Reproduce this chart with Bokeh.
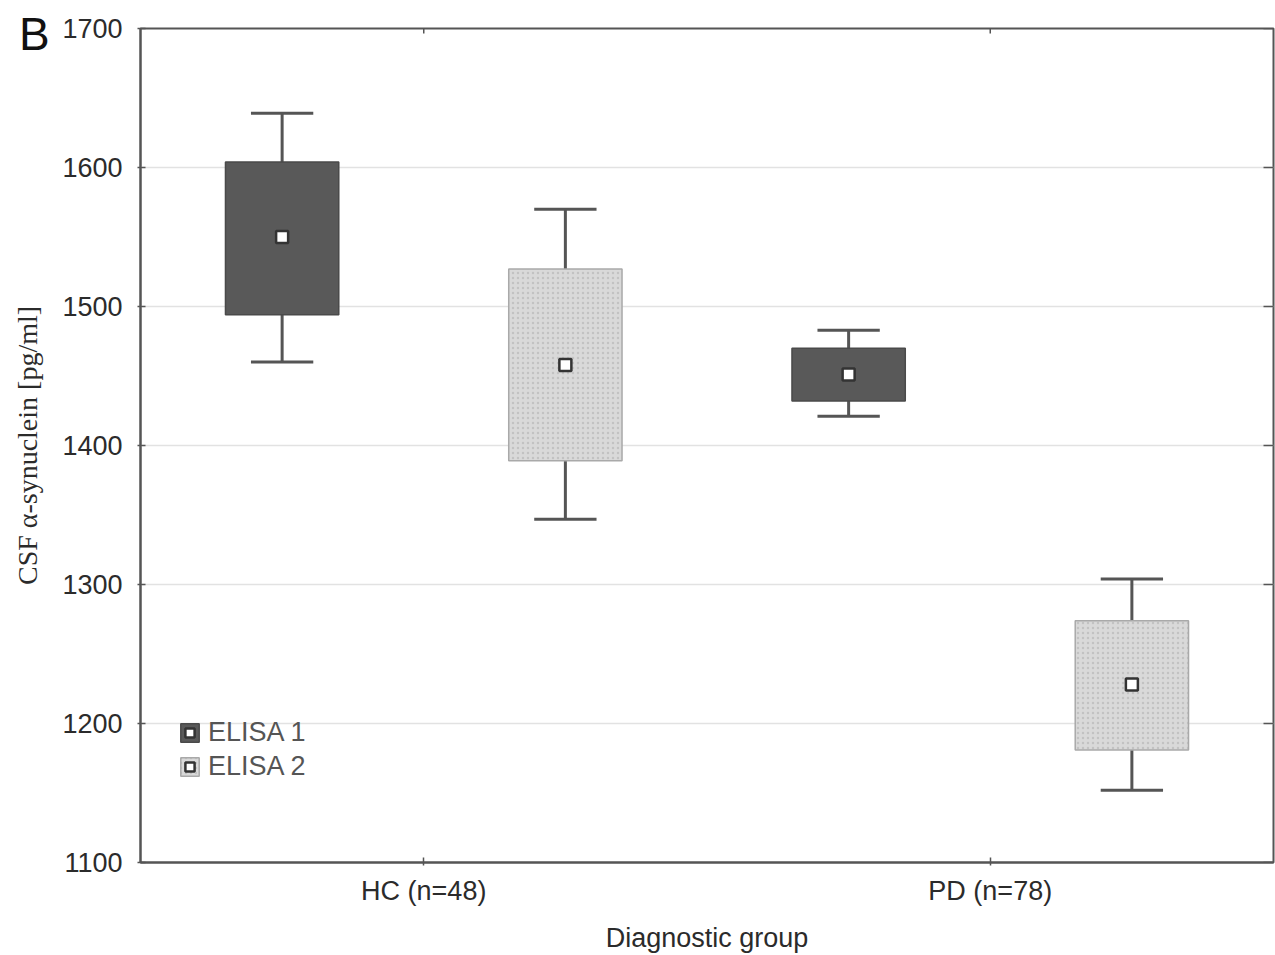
from bokeh.plotting import figure
from bokeh.layouts import column
from bokeh.models import (FixedTicker, Legend, LegendItem, Div,
                          ColumnDataSource, Range1d)
from bokeh.embed import file_html
from bokeh.resources import INLINE

# Diagnostic groups and CSF alpha-synuclein summary statistics (pg/ml)
groups = ["HC (n=48)", "PD (n=78)"]
group_pos = [1, 2]

elisa1_mean = [1550, 1451]
elisa1_box_low = [1494, 1432]
elisa1_box_high = [1604, 1470]
elisa1_whisk_low = [1460, 1421]
elisa1_whisk_high = [1639, 1483]

elisa2_mean = [1458, 1228]
elisa2_box_low = [1389, 1181]
elisa2_box_high = [1527, 1274]
elisa2_whisk_low = [1347, 1152]
elisa2_whisk_high = [1570, 1304]

y_ticks = [1100, 1200, 1300, 1400, 1500, 1600, 1700]

AXIS_COLOR = "#555555"
TEXT_COLOR = "#2b2b2b"
SANS = "Liberation Sans"

FIG_W, FIG_H = 1275, 955
X_LO, X_HI = 0.5, 2.5
Y_LO, Y_HI = 1100, 1700

p = figure(width=FIG_W, height=FIG_H, output_backend="svg", toolbar_location=None,
           x_range=Range1d(X_LO, X_HI), y_range=Range1d(Y_LO, Y_HI),
           min_border_left=140, min_border_right=2, min_border_top=28,
           min_border_bottom=93)
p.background_fill_color = "white"
p.border_fill_color = "white"
p.outline_line_color = AXIS_COLOR
p.outline_line_width = 2

# grid
p.xgrid.visible = False
p.ygrid.grid_line_color = "#e2e2e2"
p.ygrid.grid_line_width = 1.5
p.ygrid.ticker = FixedTicker(ticks=y_ticks)

# axes
p.yaxis.ticker = FixedTicker(ticks=y_ticks)
p.xaxis.ticker = FixedTicker(ticks=group_pos)
p.xaxis.major_label_overrides = {pos: g for pos, g in zip(group_pos, groups)}
for ax in (p.xaxis[0], p.yaxis[0]):
    ax.axis_line_color = AXIS_COLOR
    ax.axis_line_width = 2
    ax.major_tick_line_color = AXIS_COLOR
    ax.major_tick_line_width = 1.5
    ax.major_tick_in = 5
    ax.major_tick_out = 3
    ax.minor_tick_line_color = None
    ax.major_label_text_font = SANS
    ax.major_label_text_font_size = "27px"
    ax.major_label_text_color = TEXT_COLOR
    ax.axis_label_text_color = TEXT_COLOR
    ax.axis_label_text_font_style = "normal"

p.xaxis.axis_label = "Diagnostic group"
p.xaxis.axis_label_text_font = SANS
p.xaxis.axis_label_text_font_size = "27px"
p.xaxis.major_label_standoff = 10
p.xaxis.axis_label_standoff = 14

p.yaxis.axis_label = "CSF α-synuclein [pg/ml]"
p.yaxis.axis_label_text_font = "Liberation Serif"
p.yaxis.axis_label_text_font_size = "28px"
p.yaxis.major_label_standoff = 15
p.yaxis.axis_label_standoff = 16

# inward tick marks mirrored along the top and right edges of the frame
TICK_DX = 5 / 566.5 * (X_HI - X_LO)
TICK_DY = 5 / 834 * (Y_HI - Y_LO)
p.segment(x0=[X_HI] * len(y_ticks), x1=[X_HI - TICK_DX] * len(y_ticks),
          y0=y_ticks, y1=y_ticks, line_color=AXIS_COLOR, line_width=1.5)
p.segment(x0=group_pos, x1=group_pos, y0=[Y_HI] * len(group_pos),
          y1=[Y_HI - TICK_DY] * len(group_pos), line_color=AXIS_COLOR, line_width=1.5)

OFFSET = 0.25
BOX_W = 0.2
CAP_HALF = 0.055


def series(means, blo, bhi, wlo, whi, shift):
    xs = [g + shift for g in group_pos]
    return ColumnDataSource(dict(
        x=xs, mean=means, blo=blo, bhi=bhi, wlo=wlo, whi=whi,
        cap_l=[x - CAP_HALF for x in xs], cap_r=[x + CAP_HALF for x in xs]))


s1 = series(elisa1_mean, elisa1_box_low, elisa1_box_high,
            elisa1_whisk_low, elisa1_whisk_high, -OFFSET)
s2 = series(elisa2_mean, elisa2_box_low, elisa2_box_high,
            elisa2_whisk_low, elisa2_whisk_high, OFFSET)

WHISK = dict(line_color=AXIS_COLOR, line_width=3)
renderers = {}
for name, src, style in (
        ("e1", s1, dict(fill_color="#595959", line_color="#4a4a4a", line_width=1.5)),
        ("e2", s2, dict(fill_color="#d9d9d9", line_color="#a9a9a9", line_width=1.5,
                        hatch_pattern=".", hatch_color="#c2c2c2", hatch_scale=5,
                        hatch_weight=1))):
    p.segment(x0="x", y0="bhi", x1="x", y1="whi", source=src, **WHISK)
    p.segment(x0="x", y0="blo", x1="x", y1="wlo", source=src, **WHISK)
    p.segment(x0="cap_l", y0="whi", x1="cap_r", y1="whi", source=src, **WHISK)
    p.segment(x0="cap_l", y0="wlo", x1="cap_r", y1="wlo", source=src, **WHISK)
    box = p.vbar(x="x", width=BOX_W, bottom="blo", top="bhi", source=src, **style)
    mean = p.scatter(x="x", y="mean", source=src, marker="square", size=12,
                     fill_color="white", line_color="#333333", line_width=2.5)
    renderers[name] = (box, mean)

legend = Legend(items=[
    LegendItem(label="ELISA 1", renderers=list(renderers["e1"])),
    LegendItem(label="ELISA 2", renderers=list(renderers["e2"])),
], location=(38, 80), orientation="vertical")
legend.background_fill_alpha = 0
legend.border_line_color = None
legend.padding = 0
legend.margin = 0
legend.spacing = 3
legend.glyph_width = 23
legend.glyph_height = 23
legend.label_standoff = 7
legend.label_text_font = SANS
legend.label_text_font_size = "27px"
legend.label_text_color = "#555555"
p.add_layout(legend, "center")

# panel letter, lifted over the top-left corner of the figure
panel_letter = Div(
    text="B", width=60, height=0,
    styles={"position": "relative", "z-index": "10", "overflow": "visible",
            "transform": f"translate(0px, -{FIG_H}px)",
            "font-family": SANS, "font-size": "46px", "line-height": "1",
            "color": "#111111", "padding-left": "14px", "padding-top": "6px"})

layout = column(p, panel_letter, spacing=0)
open("out.html", "w").write(file_html(layout, INLINE))
